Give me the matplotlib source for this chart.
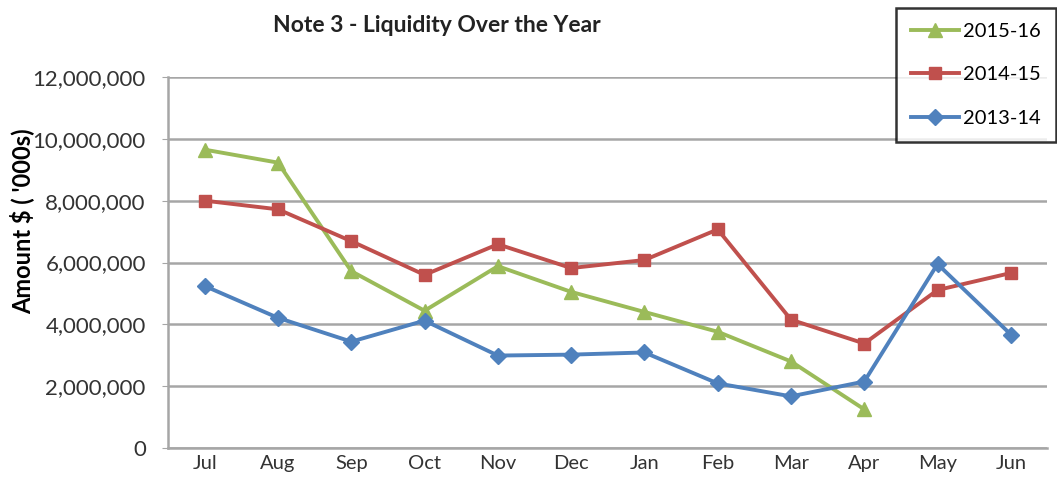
import matplotlib.pyplot as plt
from matplotlib.ticker import FuncFormatter

plt.rcParams['font.family'] = ['Lato', 'DejaVu Sans']

months = ['Jul', 'Aug', 'Sep', 'Oct', 'Nov', 'Dec', 'Jan', 'Feb', 'Mar', 'Apr', 'May', 'Jun']

# Amounts ($ '000s)
fy_2015_16 = [9650000, 9230000, 5720000, 4440000, 5880000, 5050000, 4400000, 3760000, 2800000, 1250000]
fy_2014_15 = [8000000, 7720000, 6690000, 5600000, 6590000, 5820000, 6080000, 7070000, 4150000, 3380000, 5110000, 5660000]
fy_2013_14 = [5240000, 4210000, 3440000, 4120000, 2990000, 3020000, 3090000, 2090000, 1670000, 2150000, 5950000, 3670000]

green = '#9BBB59'
red = '#C0504D'
blue = '#4F81BD'

fig = plt.figure(figsize=(10.57, 5.0), dpi=100)
ax = fig.add_axes([0.159, 0.104, 0.832, 0.742])

x = list(range(len(months)))
ax.plot(x[:len(fy_2015_16)], fy_2015_16, color=green, lw=2.8, marker='^', ms=10, label='2015-16', zorder=3)
ax.plot(x, fy_2014_15, color=red, lw=2.8, marker='s', ms=9, label='2014-15', zorder=3)
ax.plot(x, fy_2013_14, color=blue, lw=2.8, marker='D', ms=8, label='2013-14', zorder=3)

ax.set_xlim(-0.5, len(months) - 0.5)
ax.set_ylim(0, 12000000)
ax.set_yticks(range(0, 12000001, 2000000))
ax.yaxis.set_major_formatter(FuncFormatter(lambda v, p: f'{int(v):,}'))
ax.set_xticks(x)
ax.set_xticklabels(months)

ax.grid(axis='y', color='#A6A6A6', lw=1.8)
ax.set_axisbelow(True)
for s in ['top', 'right']:
    ax.spines[s].set_visible(False)
for s in ['left', 'bottom']:
    ax.spines[s].set_color('#A6A6A6')
    ax.spines[s].set_linewidth(1.8)
ax.tick_params(axis='y', length=4, color='#A6A6A6', labelsize=16, labelcolor='#333333', pad=12)
ax.tick_params(axis='x', length=0, labelsize=14.5, labelcolor='#333333', pad=5)

ax.set_ylabel("Amount $ ( '000s)", fontsize=17, fontweight='bold')
ax.yaxis.set_label_coords(-0.152, 0.612)
fig.text(0.413, 0.948, 'Note 3 - Liquidity Over the Year', ha='center', va='center',
         fontsize=16.5, fontweight='bold', color='#222222')

leg = fig.legend(loc='upper right', bbox_to_anchor=(0.999, 0.984), fontsize=14.5,
                 frameon=True, fancybox=False, edgecolor='black', handlelength=2.4,
                 handletextpad=0.2, labelspacing=1.3, borderpad=0.75, borderaxespad=0.0)
leg.get_frame().set_linewidth(1.8)

fig.savefig('out.png', dpi=100)
